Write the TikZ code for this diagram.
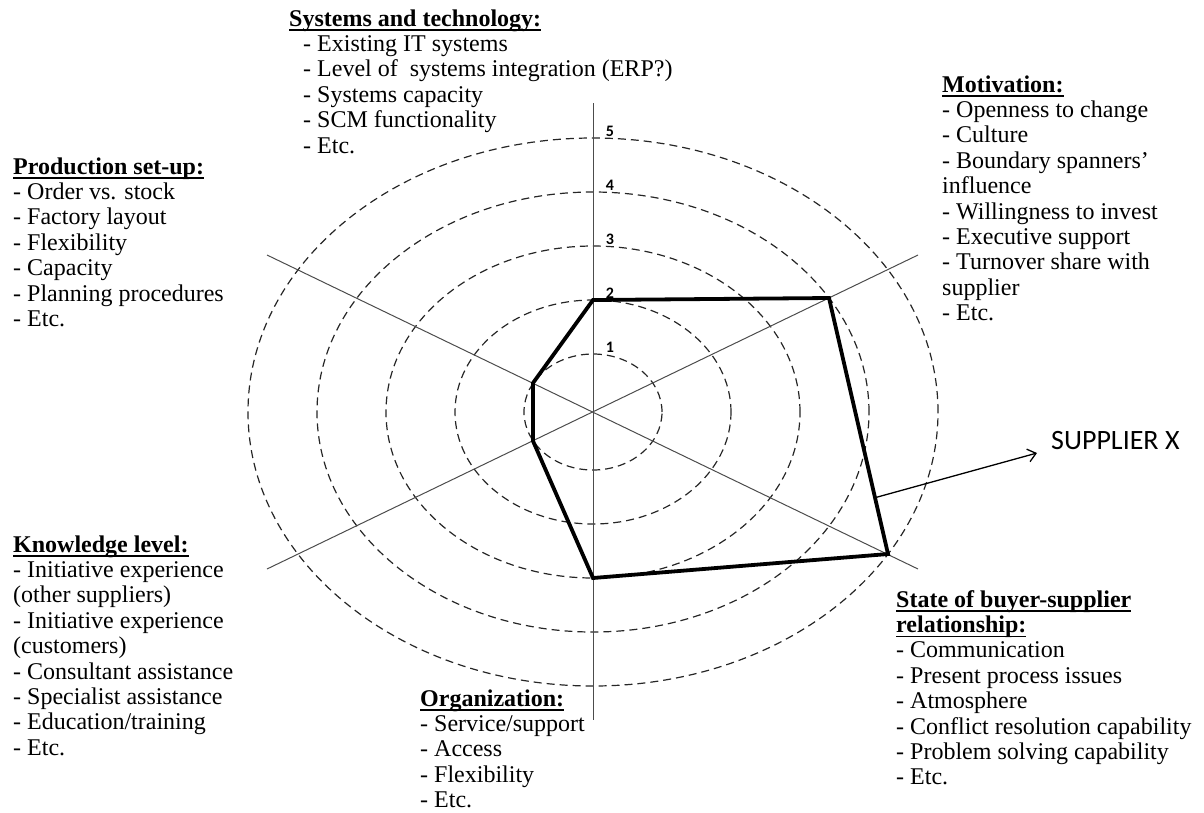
\documentclass[tikz,border=0pt]{standalone}
\usepackage{fontspec}
\setmainfont{Liberation Serif}
\newfontfamily\calib{Carlito}
\usetikzlibrary{arrows.meta,calc}
\newcommand{\hd}[1]{\setbox0\hbox{\textbf{#1}}\rlap{\rule[-4.6pt]{\wd0}{1.3pt}}\box0}
\newcommand{\blk}[1]{{\fontsize{24}{25.4}\selectfont\begin{tabular}[t]{@{}l@{}}#1\end{tabular}}}
\tikzset{
  ring/.style={draw=black!85, line width=1.2pt, dash pattern=on 8pt off 5pt},
  axisline/.style={draw=black!70, line width=1pt},
  poly/.style={draw=black, line width=3.8pt, line join=miter},
  num/.style={anchor=base, inner sep=0pt, font=\calib\bfseries\fontsize{16}{18}\selectfont},
  txt/.style={anchor=base west, inner sep=0pt, text=black},
  suplabel/.style={anchor=base west, inner sep=0pt, font=\calib\fontsize{28}{30}\selectfont},
  suparrow/.style={draw=black, line width=1.3pt, -{Straight Barb[length=8pt,width=13pt]}}
}
\begin{document}
\begin{tikzpicture}[x=1pt,y=-1pt]
\useasboundingbox (0,0) rectangle (1204,812);
\coordinate (O) at (593,412);
% rings
\foreach \k/\rx/\ry in {1/69/58, 2/138/112, 3/207/166, 4/276/220, 5/345/274}{
  \draw[ring] (O) ellipse [x radius=\rx pt, y radius=\ry pt];
  \node[num] (n\k) at (610,{410-\ry}) {\k};
}
% axes
\coordinate (vt) at (593,103);
\coordinate (vb) at (593,720);
\coordinate (ul) at (267,255);
\coordinate (lr) at (918,569);
\coordinate (ll) at (267,569);
\coordinate (ur) at (918,255);
\draw[axisline] (vt) -- (vb);
\draw[axisline] (ul) -- (lr);
\draw[axisline] (ll) -- (ur);
% profile
\coordinate (p1) at (593,300);
\coordinate (p2) at (829,298);
\coordinate (p3) at (888,554);
\coordinate (p4) at (593,578);
\coordinate (p5) at (533,441);
\coordinate (p6) at (533,383);
\draw[poly] (p1) -- (p2) -- (p3) -- (p4) -- (p5) -- (p6) -- cycle;
% supplier label
\node[suplabel] (sx) at (1051,449) {SUPPLIER X};
\coordinate (as) at ($(p2)!0.78!(p3)$);
\coordinate (ae) at (1037,453);
\draw[suparrow] (as) -- (ae);
% text blocks
\node[txt] (sys) at (303,26) {\blk{\hspace*{-14pt}\hd{Systems and technology:}\\
- Existing IT systems\\
- Level of~ systems integration (ERP?)\\
- Systems capacity\\
- SCM functionality\\
- Etc.}};
\node[txt] (prod) at (13,174) {\blk{\hd{Production set-up:}\\
- Order vs. stock\\
- Factory layout\\
- Flexibility\\
- Capacity\\
- Planning procedures\\
- Etc.}};
\node[txt] (mot) at (942,92) {\blk{\hd{Motivation:}\\
- Openness to change\\
- Culture\\
- Boundary spanners’\\
influence\\
- Willingness to invest\\
- Executive support\\
- Turnover share with\\
supplier\\
- Etc.}};
\node[txt] (know) at (13,552) {\blk{\hd{Knowledge level:}\\
- Initiative experience\\
(other suppliers)\\
- Initiative experience\\
(customers)\\
- Consultant assistance\\
- Specialist assistance\\
- Education/training\\
- Etc.}};
\node[txt] (state) at (896,607) {\blk{\hd{State of buyer-supplier}\\
\hd{relationship:}\\
- Communication\\
- Present process issues\\
- Atmosphere\\
- Conflict resolution capability\\
- Problem solving capability\\
- Etc.}};
\node[txt] (org) at (420,706) {\blk{\hd{Organization:}\\
- Service/support\\
- Access\\
- Flexibility\\
- Etc.}};
\end{tikzpicture}
\end{document}
